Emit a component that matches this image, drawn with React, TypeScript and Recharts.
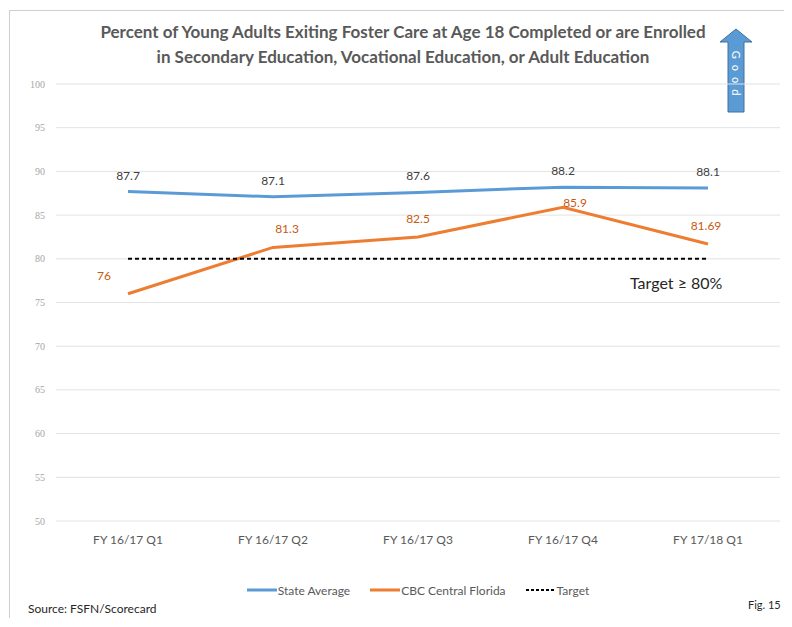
import { CartesianGrid, LabelList, Legend, Line, LineChart, XAxis, YAxis } from "recharts";

const quarters = ["FY 16/17 Q1", "FY 16/17 Q2", "FY 16/17 Q3", "FY 16/17 Q4", "FY 17/18 Q1"];
const stateAverage = [87.7, 87.1, 87.6, 88.2, 88.1];
const cbcCentralFlorida = [76, 81.3, 82.5, 85.9, 81.69];
const target = [80, 80, 80, 80, 80];
const yTicks = [50, 55, 60, 65, 70, 75, 80, 85, 90, 95, 100];

const data = quarters.map((q, i) => ({
  quarter: q,
  state: stateAverage[i],
  cbc: cbcCentralFlorida[i],
  target: target[i],
}));

const FONT = "Lato, 'Open Sans', sans-serif";

// excel put the orange labels a bit off-centre, nudge them the same way
const cbcLabelShift = [
  [-24, 0],
  [14, 0],
  [0, 0],
  [12, 14],
  [-2, 0],
];

// eslint-disable-next-line @typescript-eslint/no-explicit-any
function CbcLabel(props: any) {
  const { x, y, value, index } = props;
  const [dx, dy] = cbcLabelShift[index] || [0, 0];
  return (
    <text
      x={x + dx}
      y={y - 14 + dy}
      textAnchor="middle"
      fill="#c55a11"
      fontSize={12}
      fontFamily={FONT}
    >
      {value}
    </text>
  );
}

const legendItems = [
  { label: "State Average", color: "#5b9bd5", dash: undefined },
  { label: "CBC Central Florida", color: "#ed7d31", dash: undefined },
  { label: "Target", color: "#000000", dash: "3 2" },
];

function ChartLegend() {
  return (
    <div
      style={{
        height: 20,
        display: "flex",
        justifyContent: "center",
        alignItems: "center",
        paddingLeft: 50,
        fontFamily: FONT,
        fontSize: 12,
        color: "#595959",
      }}
    >
      {legendItems.map((it) => (
        <div key={it.label} style={{ display: "flex", alignItems: "center", marginRight: 20 }}>
          <svg width={30} height={6}>
            <line
              x1={0}
              y1={3}
              x2={30}
              y2={3}
              stroke={it.color}
              strokeWidth={it.dash ? 2 : 3}
              strokeDasharray={it.dash}
            />
          </svg>
          <span style={{ marginLeft: 1 }}>{it.label}</span>
        </div>
      ))}
    </div>
  );
}

export default function App() {
  return (
    <div
      style={{
        position: "relative",
        left: 1,
        top: 2,
        width: 782,
        height: 610,
        boxSizing: "border-box",
        border: "1px solid #cfcfcf",
        background: "#fff",
        fontFamily: FONT,
      }}
    >
      <div
        style={{
          position: "absolute",
          left: 0,
          top: 8,
          width: 780,
          textAlign: "center",
          fontWeight: 700,
          fontSize: 17,
          lineHeight: "25px",
          color: "#595959",
          paddingLeft: 6,
          boxSizing: "border-box",
        }}
      >
        Percent of Young Adults Exiting Foster Care at Age 18 Completed or are Enrolled
        <br />
        in Secondary Education, Vocational Education, or Adult Education
      </div>

      <svg
        style={{ position: "absolute", left: 709, top: 17 }}
        width={34}
        height={86}
      >
        <polygon
          points="17,1 33,14 25,14 25,84 9,84 9,14 1,14"
          fill="#5b9bd5"
          stroke="#41719c"
          strokeWidth={1}
        />
        <text
          x={17}
          y={48}
          transform="rotate(90 17 48)"
          textAnchor="middle"
          dominantBaseline="central"
          fill="#ffffff"
          fontSize={11}
          fontFamily={FONT}
          letterSpacing={6}
        >
          Good
        </text>
      </svg>

      <div style={{ position: "absolute", left: 0, top: 0 }}>
        <LineChart
          width={780}
          height={608}
          data={data}
          margin={{ top: 73, right: 10, bottom: 19, left: 16 }}
        >
          <CartesianGrid vertical={false} stroke="#e2e2e2" />
          <XAxis
            dataKey="quarter"
            axisLine={false}
            tickLine={false}
            height={59}
            tickMargin={8}
            padding={{ left: 72, right: 72 }}
            tick={{ fill: "#595959", fontSize: 12, fontFamily: FONT }}
          />
          <YAxis
            domain={[50, 100]}
            ticks={yTicks}
            axisLine={false}
            tickLine={false}
            width={30}
            tickMargin={5}
            tick={{ fill: "#a6a6a6", fontSize: 10, fontFamily: "'Liberation Serif', serif" }}
          />
          <Legend verticalAlign="bottom" content={() => <ChartLegend />} />
          <Line
            dataKey="state"
            name="State Average"
            stroke="#5b9bd5"
            strokeWidth={3}
            dot={false}
            isAnimationActive={false}
          >
            <LabelList
              dataKey="state"
              position="top"
              offset={12}
              fill="#404040"
              fontSize={12}
              fontFamily={FONT}
            />
          </Line>
          <Line
            dataKey="cbc"
            name="CBC Central Florida"
            stroke="#ed7d31"
            strokeWidth={3}
            dot={false}
            isAnimationActive={false}
          >
            <LabelList dataKey="cbc" content={<CbcLabel />} />
          </Line>
          <Line
            dataKey="target"
            name="Target"
            stroke="#000000"
            strokeWidth={2}
            strokeDasharray="4 3"
            dot={false}
            isAnimationActive={false}
          />
        </LineChart>
      </div>

      <div
        style={{
          position: "absolute",
          left: 620,
          top: 262,
          fontSize: 16,
          color: "#262626",
        }}
      >
        Target ≥ 80%
      </div>

      <div style={{ position: "absolute", left: 18, top: 590, fontSize: 12, color: "#262626" }}>
        Source: FSFN/Scorecard
      </div>
      <div style={{ position: "absolute", left: 738, top: 587, fontSize: 11, color: "#262626" }}>
        Fig. 15
      </div>
    </div>
  );
}
